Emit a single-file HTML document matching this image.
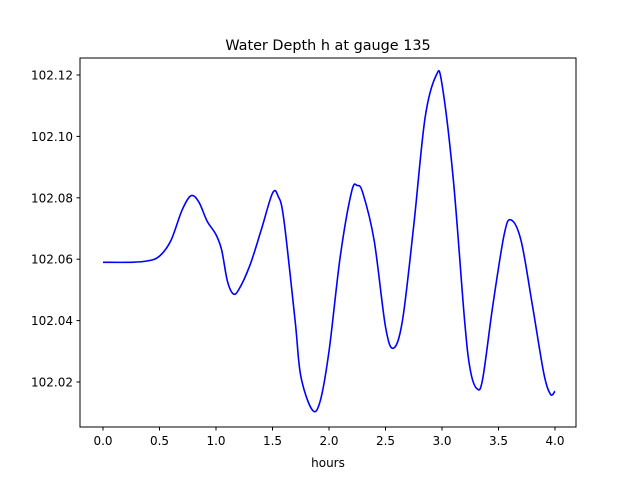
<!DOCTYPE html>
<html><head><meta charset="utf-8"><style>
body{margin:0;background:#fff}
svg text{font-family:"DejaVu Sans","Liberation Sans",sans-serif;fill:#000}
</style></head><body>
<svg id="chart" width="640" height="480" xmlns="http://www.w3.org/2000/svg">
<rect width="640" height="480" fill="#fff"/>
<text x="328" y="50" font-size="14.4" text-anchor="middle">Water Depth h at gauge 135</text>
<g id="axes"></g>
<rect x="80" y="58" width="496" height="369" fill="none" stroke="#000" stroke-width="1"/>
<text x="328" y="467" font-size="12" text-anchor="middle">hours</text>
</svg>
<script>
const hours=[0,0.25,0.4,0.5,0.6,0.7,0.78,0.85,0.92,1.0,1.05,1.1,1.15,1.2,1.3,1.4,1.5,1.55,1.6,1.7,1.75,1.85,1.92,2.0,2.1,2.2,2.25,2.3,2.4,2.5,2.57,2.65,2.75,2.85,2.95,3.0,3.1,3.2,3.25,3.31,3.36,3.45,3.55,3.61,3.7,3.8,3.9,3.96,4.0];
const depth=[102.059,102.059,102.0595,102.061,102.066,102.076,102.0807,102.0785,102.0725,102.068,102.063,102.053,102.0488,102.050,102.058,102.0695,102.0815,102.0805,102.073,102.040,102.022,102.011,102.0135,102.030,102.061,102.082,102.084,102.0815,102.066,102.038,102.031,102.040,102.071,102.106,102.120,102.117,102.086,102.040,102.024,102.0178,102.021,102.045,102.068,102.0728,102.066,102.045,102.023,102.016,102.017];
const xTicks=[0,0.5,1,1.5,2,2.5,3,3.5,4];
const yTicks=[102.02,102.04,102.06,102.08,102.10,102.12];
const xs=v=>103+v*113;
const ys=v=>382-(v-102.02)*3070;
const NS="http://www.w3.org/2000/svg";
const g=document.getElementById('axes');
const svg=document.getElementById('chart');
function mk(t,a){const e=document.createElementNS(NS,t);for(const k in a)e.setAttribute(k,a[k]);return e;}
xTicks.forEach(v=>{
 const l=mk('line',{x1:xs(v),x2:xs(v),y1:427,y2:430.5,stroke:'#000'});
 
 
 g.appendChild(l);
 const t=mk('text',{x:xs(v),y:445,'font-size':12,'text-anchor':'middle'});
 t.textContent=v.toFixed(1);
 
 
 g.appendChild(t);
});
yTicks.forEach(v=>{
 const l=mk('line',{x1:76.5,x2:80,y1:ys(v),y2:ys(v),stroke:'#000'});
 
 
 g.appendChild(l);
 const t=mk('text',{x:73,y:ys(v)+4.5,'font-size':12,'text-anchor':'end'});
 t.textContent=v.toFixed(2);
 
 
 g.appendChild(t);
});
const P=hours.map((h,i)=>[xs(h),ys(depth[i])]);
let d='M'+P[0][0]+','+P[0][1];
for(let i=0;i<P.length-1;i++){
 const p0=P[Math.max(0,i-1)],p1=P[i],p2=P[i+1],p3=P[Math.min(P.length-1,i+2)];
 const c1=[p1[0]+(p2[0]-p0[0])/6,p1[1]+(p2[1]-p0[1])/6];
 const c2=[p2[0]-(p3[0]-p1[0])/6,p2[1]-(p3[1]-p1[1])/6];
 d+=' C'+c1[0]+','+c1[1]+' '+c2[0]+','+c2[1]+' '+p2[0]+','+p2[1];
}
const path=mk('path',{d:d,fill:'none',stroke:'#0000ff','stroke-width':1.6,'stroke-linejoin':'round'});


svg.appendChild(path);
</script>
</body></html>
